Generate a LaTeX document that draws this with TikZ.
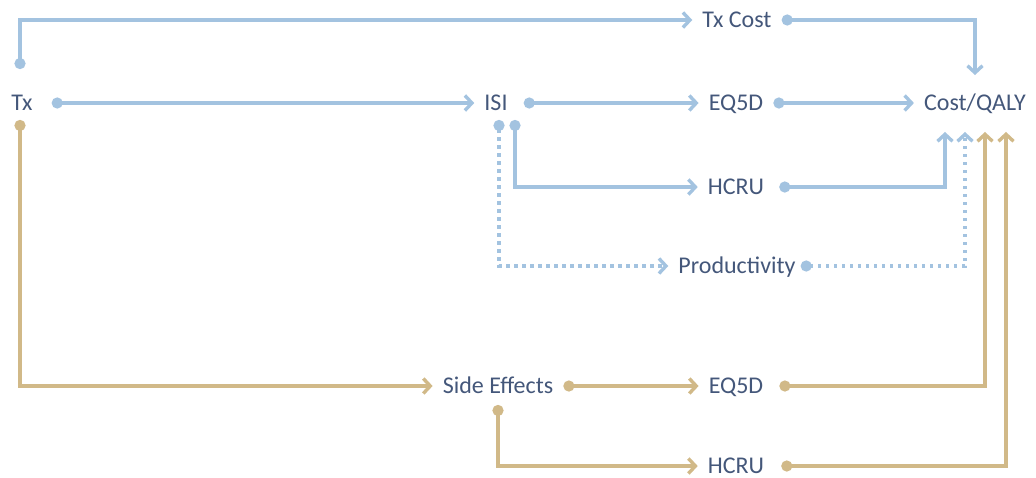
\documentclass[tikz,border=0pt]{standalone}
\usepackage{fontspec}
\setmainfont{Carlito}
\usetikzlibrary{arrows.meta}
\definecolor{lineblue}{HTML}{A3C3E0}
\definecolor{linetan}{HTML}{D1B988}
\definecolor{textslate}{HTML}{44577A}
\begin{document}
\begin{tikzpicture}[x=1pt, y=-1pt,
    box/.style={inner xsep=10pt, inner ysep=0pt, text height=15.5pt, text depth=0pt,
        text=textslate, font=\fontsize{24}{29}\selectfont},
    link/.style={line width=3.4pt, {Circle[length=11pt]}-{Straight Barb[length=7pt,width=15pt]}},
    bluelink/.style={link, draw=lineblue},
    tanlink/.style={link, draw=linetan},
    dotlink/.style={bluelink, dash pattern=on 3.4pt off 4.6pt}]
    \useasboundingbox (0,0) rectangle (1036,477);

    % Các nút
    \node[box] (tx) at (22,103) {Tx};
    \node[box] (txcost) at (737,20) {Tx Cost};
    \node[box] (isi) at (496,103) {ISI};
    \node[box] (eqa) at (736,103) {EQ5D};
    \node[box] (costq) at (975,103) {Cost/QALY};
    \node[box] (hcrua) at (736,187) {HCRU};
    \node[box] (prod) at (737,266) {Productivity};
    \node[box] (side) at (498,386) {Side Effects};
    \node[box] (eqb) at (736,386) {EQ5D};
    \node[box] (hcrub) at (736,466) {HCRU};

    % Nhánh điều trị (xanh)
    \draw[bluelink] ([xshift=-2pt,yshift=26pt]tx.north) |- (txcost.west);
    \draw[bluelink] (txcost.east) -| ([yshift=20pt]costq.north);
    \draw[bluelink] ([xshift=9pt]tx.east) -- (isi.west);
    \draw[bluelink] ([xshift=6pt]isi.east) -- (eqa.west);
    \draw[bluelink] (eqa.east) -- (costq.west);
    \draw[bluelink] ([xshift=19pt,yshift=-9pt]isi.south) |- (hcrua.west);
    \draw[bluelink] ([xshift=5pt]hcrua.east) -| ([xshift=-30pt,yshift=-21pt]costq.south);
    \draw[dotlink] ([xshift=3pt,yshift=-9pt]isi.south) |- (prod.west);
    \draw[dotlink] ([xshift=-5pt]prod.east) -| ([xshift=-10pt,yshift=-21pt]costq.south);

    % Nhánh tác dụng phụ (vàng nâu)
    \draw[tanlink] ([xshift=-2pt,yshift=-9pt]tx.south) |- (side.west);
    \draw[tanlink] (side.east) -- (eqb.west);
    \draw[tanlink] ([xshift=6pt]eqb.east) -| ([xshift=10pt,yshift=-21pt]costq.south);
    \draw[tanlink] ([yshift=-11pt]side.south) |- (hcrub.west);
    \draw[tanlink] ([xshift=7pt]hcrub.east) -| ([xshift=31pt,yshift=-21pt]costq.south);
\end{tikzpicture}
\end{document}
